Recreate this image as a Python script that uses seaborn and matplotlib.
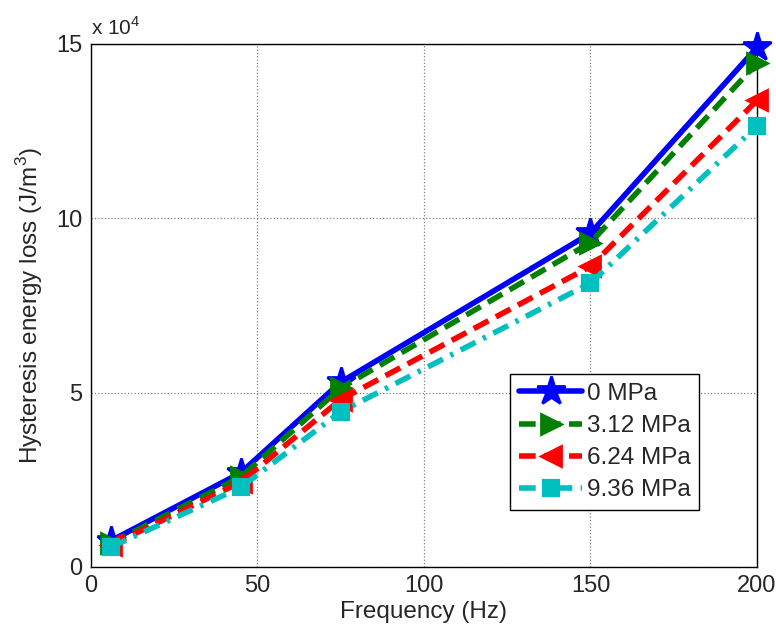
import matplotlib
matplotlib.use("Agg")
import matplotlib.pyplot as plt
import seaborn as sns
import pandas as pd
import numpy as np

freq = [6, 45, 75, 150, 200]
loss_0 = [0.75, 2.70, 5.30, 9.57, 14.90]
loss_312 = [0.68, 2.58, 5.13, 9.30, 14.45]
loss_624 = [0.62, 2.43, 4.80, 8.62, 13.38]
loss_936 = [0.57, 2.28, 4.45, 8.14, 12.65]
labels = ["0 MPa", "3.12 MPa", "6.24 MPa", "9.36 MPa"]

sns.set_style("white")
plt.rcParams['font.family'] = ['Liberation Sans', 'DejaVu Sans']
plt.rcParams['mathtext.fontset'] = 'custom'
plt.rcParams['mathtext.rm'] = 'Liberation Sans'

fig = plt.figure(figsize=(7.76, 6.34), dpi=100)
ax = fig.add_axes([0.117, 0.1057, 0.8585, 0.8249])

series = [loss_0, loss_312, loss_624, loss_936]
colors = ["#0000ff", "#008000", "#ff0000", "#00bfbf"]
styles = ["-", (0, (3.0, 1.5)), (0, (3.0, 1.5)), (0, (3.0, 1.5, 0.6, 1.5))]
markers = ["*", ">", "<", "s"]
msizes = [21, 14, 14, 10]

for vals, lab, c, ls, m, ms in zip(series, labels, colors, styles, markers, msizes):
    df = pd.DataFrame({"Frequency": freq, "Loss": vals})
    sns.lineplot(data=df, x="Frequency", y="Loss", ax=ax, color=c, linewidth=4,
                 linestyle=ls, marker=m, markersize=ms, label=lab,
                 markeredgecolor=c, markerfacecolor=c, markeredgewidth=2 if m != "s" else 3,
                 clip_on=False, zorder=3)

ax.set_xlim(0, 200)
ax.set_ylim(0, 15)
ax.set_xticks([0, 50, 100, 150, 200])
ax.set_yticks([0, 5, 10, 15])
ax.grid(True, color="#808080", linestyle=":", linewidth=0.9)
ax.tick_params(direction="in", labelsize=17, length=4, color="black", pad=6)
for s in ax.spines.values():
    s.set_color("black")
    s.set_linewidth(1.0)
ax.set_xlabel("Frequency (Hz)", fontsize=17.5, labelpad=3)
ax.set_ylabel("Hysteresis energy loss (J/m$^3$)", fontsize=17.5, labelpad=8)
ax.text(0.0, 1.01, "x 10$^4$", transform=ax.transAxes, fontsize=15, ha="left", va="bottom")

leg = ax.legend(loc="lower left", bbox_to_anchor=(0.63, 0.109), fontsize=17.5,
                frameon=True, fancybox=False, edgecolor="black", framealpha=1,
                handlelength=2.6, borderpad=0.35, labelspacing=0.42, handletextpad=0.2,
                borderaxespad=0)
leg.get_frame().set_linewidth(1.0)

fig.savefig("out.png", dpi=100)
